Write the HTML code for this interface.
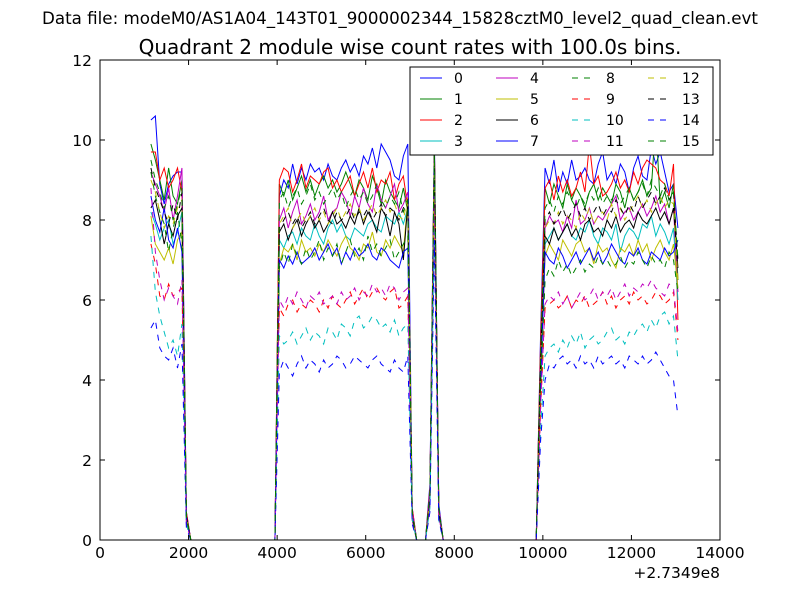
<!DOCTYPE html>
<html><head><meta charset="utf-8"><style>
body{margin:0;background:#fff;}
svg{display:block;font-family:"DejaVu Sans","Liberation Sans",sans-serif;}
</style></head><body>
<svg id="chart" width="800" height="600" viewBox="0 0 800 600">
<rect x="0" y="0" width="800" height="600" fill="#fff"/>
<text x="400" y="24" font-size="16.7" text-anchor="middle">Data file: modeM0/AS1A04_143T01_9000002344_15828cztM0_level2_quad_clean.evt</text>
<text x="410" y="54" font-size="20" text-anchor="middle">Quadrant 2 module wise count rates with 100.0s bins.</text>
<defs><clipPath id="plotclip"><rect x="100" y="59" width="620" height="483"/></clipPath></defs>
<g id="series" clip-path="url(#plotclip)"></g>
<g id="axes"></g>
<rect x="100" y="60" width="620" height="480" fill="none" stroke="#000" stroke-width="1"/>
<g id="legend"></g>
</svg>
<script>
const xTicks=[0,2000,4000,6000,8000,10000,12000,14000];
const yTicks=[0,2,4,6,8,10,12];
const times=[];for(let t=1150;t<=13050;t+=100)times.push(t);
const colors=["#0000ff","#008000","#ff0000","#00bfbf","#bf00bf","#bfbf00","#000000","#0000ff","#008000","#ff0000","#00bfbf","#bf00bf","#bfbf00","#000000","#0000ff","#008000"];
const s0=[10.5,10.6,8.9,8.4,8.9,9.1,9.2,9.2,0.7,0,0,0,0,0,0,0,0,0,0,0,0,0,0,0,0,0,0,0,0,8.6,9.0,8.8,9.4,8.9,9.3,9.0,9.4,9.2,9.3,9.0,9.4,9.1,9.0,9.3,9.5,9.2,9.4,9.1,9.6,9.4,9.8,9.3,9.9,9.7,9.5,9.1,9.0,9.6,9.9,0.8,0,0,0,1.4,10.1,0.9,0,0,0,0,0,0,0,0,0,0,0,0,0,0,0,0,0,0,0,0,0,0,5.2,9.3,8.9,9.5,8.7,9.2,8.9,9.5,9.0,9.1,9.3,9.0,8.9,9.4,9.7,9.0,9.2,8.9,9.4,9.2,8.7,9.3,9.6,9.1,9.0,9.8,9.4,9.7,9.2,8.7,8.9,7.8];
const s1=[9.9,9.5,9.0,8.5,9.3,8.6,8.4,9.0,0.6,0,0,0,0,0,0,0,0,0,0,0,0,0,0,0,0,0,0,0,0,8.9,8.6,9.0,8.5,8.8,9.1,8.7,9.0,8.6,8.9,9.1,8.8,9.0,8.7,8.9,9.2,8.9,8.6,9.0,8.8,8.5,9.1,8.8,8.4,9.0,8.7,8.5,8.3,8.8,8.2,0.7,0,0,0,1.2,9.8,0.8,0,0,0,0,0,0,0,0,0,0,0,0,0,0,0,0,0,0,0,0,0,0,4.8,8.8,8.4,8.9,8.6,8.3,8.9,8.5,8.8,8.6,8.3,8.7,8.9,8.5,8.8,8.6,8.4,8.9,8.7,8.3,8.8,8.5,8.7,9.0,8.6,8.8,10.5,8.4,8.7,8.3,8.9,6.5];
const s2=[9.7,9.7,9.0,9.3,8.8,9.0,9.3,8.7,0.7,0,0,0,0,0,0,0,0,0,0,0,0,0,0,0,0,0,0,0,0,9.0,9.3,9.2,8.7,9.0,9.4,8.8,9.1,9.0,8.9,9.2,9.3,8.8,9.0,8.7,8.9,9.1,8.6,8.9,9.2,8.8,9.3,8.7,9.0,8.9,9.2,8.5,8.9,9.1,8.3,0.8,0,0,0,1.3,9.9,0.8,0,0,0,0,0,0,0,0,0,0,0,0,0,0,0,0,0,0,0,0,0,0,5.0,8.8,9.0,8.5,9.1,8.7,9.0,8.6,8.8,9.2,8.7,9.9,8.9,9.1,8.6,8.7,8.9,9.2,8.8,9.0,8.7,9.2,8.9,9.3,9.5,9.4,9.3,9.0,8.9,8.6,9.4,5.5];
const s3=[8.2,7.9,7.5,7.8,8.0,7.4,7.7,8.2,0.5,0,0,0,0,0,0,0,0,0,0,0,0,0,0,0,0,0,0,0,0,7.5,7.3,7.6,7.7,7.4,7.8,7.6,7.5,7.9,7.6,7.4,7.8,8.0,7.7,7.9,7.6,7.5,7.8,7.7,7.6,7.9,8.0,7.8,7.7,8.1,8.0,7.9,8.2,7.9,8.3,0.6,0,0,0,1.1,9.5,0.7,0,0,0,0,0,0,0,0,0,0,0,0,0,0,0,0,0,0,0,0,0,0,4.2,7.4,7.6,7.8,7.5,7.7,7.9,7.6,7.5,7.8,7.7,8.0,7.6,7.4,7.8,7.7,7.5,7.9,7.2,7.6,7.8,7.7,7.5,7.9,7.8,8.1,7.6,7.9,7.7,7.4,7.8,6.0];
const s4=[9.2,8.9,8.6,8.2,8.8,8.0,8.6,9.3,0.6,0,0,0,0,0,0,0,0,0,0,0,0,0,0,0,0,0,0,0,0,8.0,8.3,7.8,8.2,8.5,7.9,8.1,8.4,8.0,8.2,8.6,8.0,8.2,8.3,8.7,8.5,8.1,8.6,8.3,8.8,8.4,8.2,8.9,8.5,8.3,8.6,8.9,8.2,8.4,8.7,0.7,0,0,0,1.2,9.7,0.8,0,0,0,0,0,0,0,0,0,0,0,0,0,0,0,0,0,0,0,0,0,0,4.5,7.8,8.1,7.9,8.0,7.7,8.1,7.8,8.5,7.9,8.0,8.3,7.9,8.1,8.0,8.2,8.4,8.6,8.0,8.2,8.3,8.0,8.2,8.4,8.1,8.3,8.6,8.2,8.4,7.9,8.3,6.2];
const s5=[8.1,7.4,7.2,7.0,7.3,6.9,7.5,7.7,0.5,0,0,0,0,0,0,0,0,0,0,0,0,0,0,0,0,0,0,0,0,6.9,7.3,7.2,7.4,7.0,7.5,7.2,7.3,7.1,7.4,7.2,7.5,7.3,7.1,7.4,7.6,7.3,7.2,7.0,7.4,7.3,7.7,7.2,7.1,7.5,7.3,7.6,7.4,7.2,8.5,0.6,0,0,0,1.0,9.3,0.7,0,0,0,0,0,0,0,0,0,0,0,0,0,0,0,0,0,0,0,0,0,0,4.0,7.1,7.4,7.2,7.0,7.5,7.3,7.1,7.4,7.5,7.2,7.3,6.9,7.4,7.2,7.3,7.0,6.8,7.3,7.2,7.4,7.1,7.5,7.2,7.4,7.0,7.3,7.5,7.2,7.0,7.4,6.3];
const s6=[8.3,8.5,8.0,7.4,7.9,7.6,8.1,8.3,0.6,0,0,0,0,0,0,0,0,0,0,0,0,0,0,0,0,0,0,0,0,7.7,7.9,7.5,7.8,8.0,7.6,7.9,8.1,7.8,8.0,7.7,7.9,8.2,7.9,8.0,7.8,8.1,7.9,8.3,7.9,8.2,8.0,7.7,8.3,8.1,7.6,8.2,7.9,7.0,8.4,0.6,0,0,0,1.1,9.6,0.7,0,0,0,0,0,0,0,0,0,0,0,0,0,0,0,0,0,0,0,0,0,0,4.3,7.6,7.4,7.8,7.5,7.7,7.9,7.6,7.8,7.5,7.9,8.0,7.7,7.8,7.6,8.0,7.8,8.1,7.7,7.9,8.0,7.8,8.2,8.0,7.9,8.1,8.3,8.0,8.2,7.9,8.3,6.8];
const s7=[8.6,8.0,7.7,8.3,7.5,7.3,7.8,7.2,0.5,0,0,0,0,0,0,0,0,0,0,0,0,0,0,0,0,0,0,0,0,7.0,6.8,7.1,6.9,7.2,6.9,7.0,7.1,7.3,7.0,7.2,7.4,7.1,7.3,6.9,7.2,7.0,7.3,7.1,7.2,7.4,7.1,7.0,7.3,7.2,7.0,6.9,6.8,7.2,7.3,0.6,0,0,0,1.0,9.2,0.7,0,0,0,0,0,0,0,0,0,0,0,0,0,0,0,0,0,0,0,0,0,0,3.9,7.2,7.0,6.9,7.3,7.1,6.8,7.0,7.2,6.9,7.1,7.3,7.0,7.2,6.9,7.1,7.4,7.2,7.0,6.9,7.2,7.1,7.3,7.0,6.9,7.2,7.1,7.0,7.3,7.1,7.2,7.5];
const s8=[9.2,8.6,8.2,7.9,7.2,7.8,8.2,7.4,0.5,0,0,0,0,0,0,0,0,0,0,0,0,0,0,0,0,0,0,0,0,6.8,7.2,6.9,7.4,7.1,6.9,7.3,7.0,7.2,7.5,7.0,7.3,7.1,7.4,6.9,7.2,7.5,7.1,7.3,7.0,7.6,7.2,7.4,7.1,7.3,7.5,7.0,7.2,7.4,7.6,0.6,0,0,0,1.0,9.3,0.7,0,0,0,0,0,0,0,0,0,0,0,0,0,0,0,0,0,0,0,0,0,0,3.8,6.5,6.8,6.6,7.0,6.7,6.9,6.6,6.8,7.0,6.7,6.9,6.8,7.1,6.9,7.0,6.8,6.9,7.1,6.8,7.0,6.9,7.2,7.0,6.8,7.1,6.9,7.0,6.8,7.2,7.0,6.2];
const s9=[7.4,6.9,6.1,6.0,6.4,6.1,6.2,6.3,0.4,0,0,0,0,0,0,0,0,0,0,0,0,0,0,0,0,0,0,0,0,5.8,5.6,5.9,6.0,5.7,5.9,5.8,6.0,5.9,5.7,6.0,5.8,6.1,5.9,5.8,6.0,6.2,5.9,6.1,6.3,6.0,6.2,6.3,6.1,6.0,6.2,6.3,5.8,5.9,6.1,0.5,0,0,0,0.9,8.5,0.6,0,0,0,0,0,0,0,0,0,0,0,0,0,0,0,0,0,0,0,0,0,0,3.3,5.8,5.9,6.0,5.8,5.9,6.1,5.8,6.0,5.9,6.1,5.8,5.9,6.0,6.2,5.9,6.1,5.8,6.0,6.1,5.9,6.2,6.0,6.1,5.9,6.0,6.2,6.1,5.9,6.0,6.2,5.0];
const s10=[7.6,6.2,5.6,5.2,4.8,5.0,4.6,5.4,0.4,0,0,0,0,0,0,0,0,0,0,0,0,0,0,0,0,0,0,0,0,5.1,4.9,5.0,5.2,4.9,5.1,5.3,5.0,5.2,5.1,4.9,5.3,5.2,5.0,5.4,5.3,5.1,5.5,5.6,5.3,5.4,5.6,5.5,5.3,5.4,5.2,5.5,5.1,5.3,5.4,0.5,0,0,0,0.8,8.0,0.5,0,0,0,0,0,0,0,0,0,0,0,0,0,0,0,0,0,0,0,0,0,0,2.8,4.6,4.8,4.9,4.7,5.0,4.8,5.1,4.9,5.2,4.8,5.0,5.1,4.9,5.0,5.2,5.3,5.0,5.1,4.9,5.2,5.1,5.3,5.4,5.2,5.5,5.3,5.6,5.7,5.4,5.6,4.5];
const s11=[8.8,7.2,6.5,6.0,6.3,6.1,5.9,6.5,0.4,0,0,0,0,0,0,0,0,0,0,0,0,0,0,0,0,0,0,0,0,6.0,5.8,6.1,5.9,6.2,6.0,5.8,6.1,6.0,6.2,5.9,6.0,6.1,5.9,6.2,6.0,6.1,6.3,6.0,6.2,6.1,6.4,6.2,6.3,6.1,6.4,6.3,6.0,6.2,6.3,0.5,0,0,0,0.9,8.6,0.6,0,0,0,0,0,0,0,0,0,0,0,0,0,0,0,0,0,0,0,0,0,0,3.4,5.9,6.1,6.0,6.2,5.9,6.1,5.8,6.0,6.2,6.0,6.1,6.3,6.0,6.2,6.1,6.3,6.0,6.2,6.4,6.1,6.3,6.2,6.4,6.3,6.5,6.3,6.2,6.1,6.4,6.3,5.2];
const s12=[9.0,8.7,8.2,7.8,8.1,7.9,8.3,8.5,0.6,0,0,0,0,0,0,0,0,0,0,0,0,0,0,0,0,0,0,0,0,7.9,8.1,8.3,7.8,8.0,8.2,7.9,8.1,8.3,8.0,8.2,7.9,8.1,8.3,8.0,8.2,8.4,8.1,8.3,8.0,8.2,8.4,8.1,8.3,8.5,8.2,8.4,8.1,8.0,8.6,0.6,0,0,0,1.1,9.6,0.7,0,0,0,0,0,0,0,0,0,0,0,0,0,0,0,0,0,0,0,0,0,0,4.4,7.8,8.0,7.9,8.2,7.9,8.1,8.0,7.8,8.2,8.0,8.3,7.9,8.1,8.2,8.0,8.4,8.1,8.3,8.0,8.2,8.4,8.6,8.3,8.5,8.2,8.4,8.6,8.3,8.5,8.4,6.5];
const s13=[9.3,8.8,8.5,8.2,7.9,8.4,8.0,8.7,0.6,0,0,0,0,0,0,0,0,0,0,0,0,0,0,0,0,0,0,0,0,7.8,8.0,8.2,7.9,8.1,7.8,8.0,8.2,7.9,8.1,8.3,8.0,7.9,8.2,8.0,8.1,8.3,8.0,8.2,8.1,8.3,8.0,8.2,8.4,8.1,8.3,8.2,8.0,8.3,8.5,0.6,0,0,0,1.1,9.7,0.7,0,0,0,0,0,0,0,0,0,0,0,0,0,0,0,0,0,0,0,0,0,0,4.5,8.0,8.2,7.9,8.1,8.3,8.0,8.2,8.4,8.1,8.3,8.0,8.2,8.4,8.1,8.3,8.2,8.5,8.3,8.1,8.4,8.2,8.6,8.3,8.5,8.7,8.4,8.6,8.8,8.5,8.7,7.0];
const s14=[5.3,5.5,4.8,4.6,4.5,4.8,4.3,4.9,0.3,0,0,0,0,0,0,0,0,0,0,0,0,0,0,0,0,0,0,0,0,4.2,4.5,4.3,4.1,4.4,4.6,4.3,4.5,4.4,4.2,4.5,4.3,4.4,4.6,4.5,4.3,4.4,4.6,4.5,4.4,4.3,4.5,4.6,4.4,4.3,4.2,4.5,4.3,4.2,4.6,0.4,0,0,0,0.7,7.5,0.5,0,0,0,0,0,0,0,0,0,0,0,0,0,0,0,0,0,0,0,0,0,0,2.5,4.0,4.4,4.3,4.5,4.6,4.4,4.5,4.3,4.6,4.4,4.5,4.3,4.6,4.4,4.5,4.6,4.4,4.5,4.3,4.6,4.5,4.4,4.6,4.4,4.5,4.7,4.5,4.3,4.1,4.0,3.1];
const s15=[9.5,9.0,8.7,8.3,8.6,8.0,8.4,8.8,0.6,0,0,0,0,0,0,0,0,0,0,0,0,0,0,0,0,0,0,0,0,8.5,8.7,8.3,8.6,8.8,8.4,8.6,8.9,8.5,8.7,8.4,8.6,8.8,8.5,8.7,8.3,8.6,8.8,8.5,8.7,8.4,8.6,8.9,8.5,8.3,8.6,8.4,8.7,8.2,8.5,0.7,0,0,0,1.2,9.8,0.8,0,0,0,0,0,0,0,0,0,0,0,0,0,0,0,0,0,0,0,0,0,0,4.7,8.3,8.5,8.2,8.6,8.4,8.7,8.5,8.3,8.6,8.4,8.7,8.5,8.8,8.4,8.6,8.5,8.7,8.4,8.6,8.8,8.5,8.7,8.9,8.6,9.0,8.8,8.6,8.9,8.5,8.7,7.0];
const seriesList=[s0,s1,s2,s3,s4,s5,s6,s7,s8,s9,s10,s11,s12,s13,s14,s15];

const NS="http://www.w3.org/2000/svg";
const X0=100,X1=720,Y0=540,Y1=60;
function xs(t){return X0+(t-0)/(14000-0)*(X1-X0);}
function ys(v){return Y0-(v-0)/(12-0)*(Y0-Y1);}
const gS=document.getElementById('series');
seriesList.forEach((arr,i)=>{
  const p=document.createElementNS(NS,'polyline');
  p.setAttribute('points',arr.map((v,k)=>xs(times[k]).toFixed(2)+','+ys(v).toFixed(2)).join(' '));
  p.setAttribute('fill','none');p.setAttribute('stroke',colors[i]);p.setAttribute('stroke-width','1');
  if(i>=8)p.setAttribute('stroke-dasharray','6,6');
  
  
  gS.appendChild(p);
});
const gA=document.getElementById('axes');
function mk(tag,attrs,parent){const e=document.createElementNS(NS,tag);for(const k in attrs)e.setAttribute(k,attrs[k]);parent.appendChild(e);return e;}
xTicks.forEach(t=>{
  const x=xs(t);
  const a=mk('line',{x1:x,y1:Y0,x2:x,y2:Y0-5,stroke:'#000'},gA);
  
  
  const b=mk('line',{x1:x,y1:Y1,x2:x,y2:Y1+5,stroke:'#000'},gA);
  
  
  const l=mk('text',{x:x,y:Y0+18,'font-size':'15.5','text-anchor':'middle'},gA);
  l.textContent=String(t);
  
  
});
yTicks.forEach(v=>{
  const y=ys(v);
  const a=mk('line',{x1:X0,y1:y,x2:X0+5,y2:y,stroke:'#000'},gA);
  
  
  const b=mk('line',{x1:X1,y1:y,x2:X1-5,y2:y,stroke:'#000'},gA);
  
  
  const l=mk('text',{x:X0-8,y:y+6,'font-size':'15.5','text-anchor':'end'},gA);
  l.textContent=String(v);
  
  
});
const off=mk('text',{x:X1,y:578,'font-size':'15.5','text-anchor':'end'},gA);
off.textContent='+2.7349e8';


const gL=document.getElementById('legend');
const box=mk('rect',{x:410,y:67,width:303,height:88,fill:'#fff',stroke:'#000','stroke-width':'1'},gL);


for(let i=0;i<16;i++){
  const c=Math.floor(i/4),r=i%4;
  const lx=420+c*76,ly=78+r*21;
  const ln=mk('line',{x1:lx,y1:ly,x2:lx+22,y2:ly,stroke:colors[i],'stroke-width':'1'},gL);
  if(i>=8)ln.setAttribute('stroke-dasharray','6,6');
  
  
  const tx=mk('text',{x:lx+34,y:ly+5,'font-size':'14'},gL);
  tx.textContent=String(i);
  
  
}
</script>
</body></html>
